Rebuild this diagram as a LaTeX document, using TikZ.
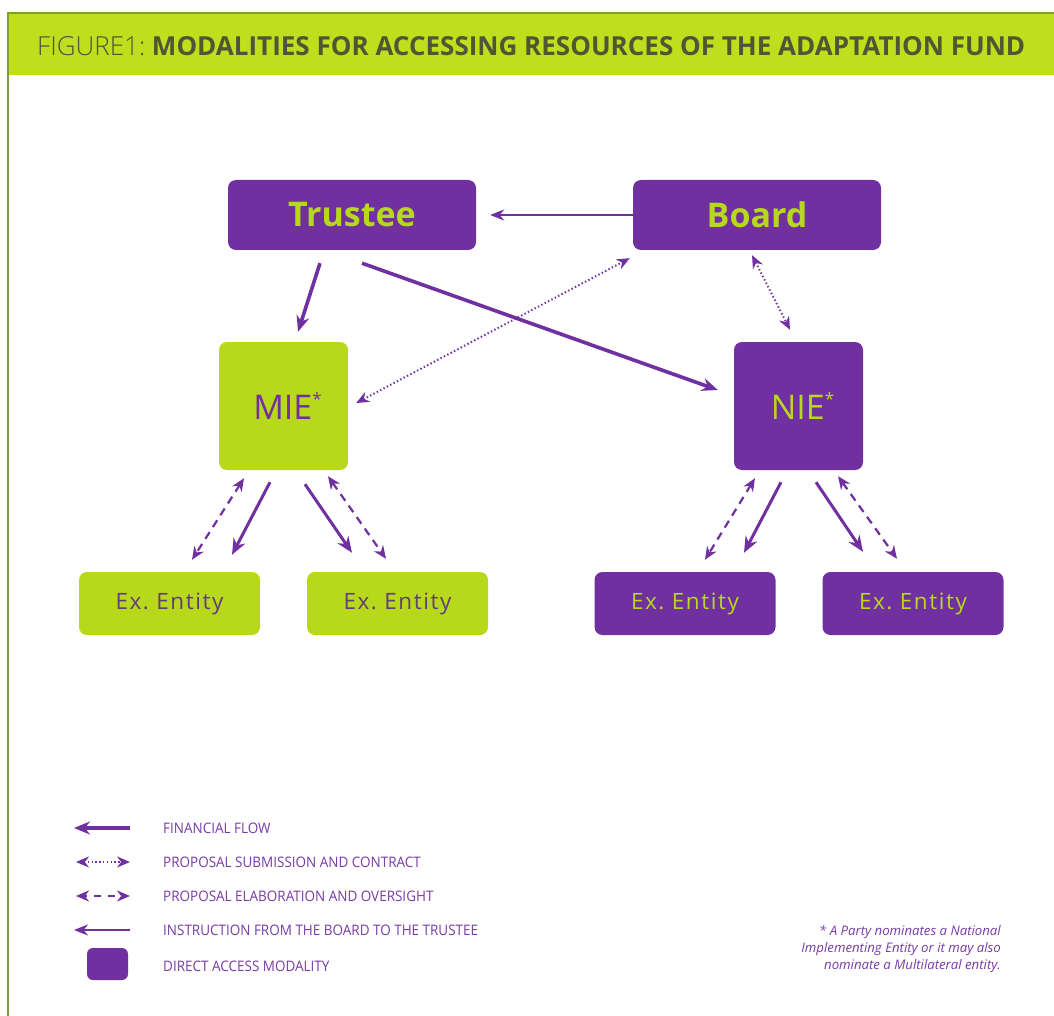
\documentclass[tikz,border=0pt]{standalone}
\usepackage{fontspec}
\setmainfont{Open Sans}
\usetikzlibrary{arrows.meta,calc}
\definecolor{pur}{RGB}{113,48,160}
\definecolor{lime}{RGB}{184,216,28}
\definecolor{band}{RGB}{190,222,30}
\definecolor{frame}{RGB}{128,156,56}
\definecolor{olive}{RGB}{78,86,52}
\definecolor{dpur}{RGB}{96,62,118}
\definecolor{lpur}{RGB}{120,60,165}
\tikzset{
  box/.style={rounded corners=8pt, inner sep=0pt, draw=none},
  pbox/.style={box, fill=pur, text=lime},
  gbox/.style={box, fill=lime, text=pur},
  topbox/.style={minimum width=248pt, minimum height=70pt, font=\fontsize{34}{34}\selectfont\bfseries},
  midbox/.style={minimum width=129pt, minimum height=128pt, font=\fontsize{34}{34}\selectfont},
  exbox/.style={minimum width=181pt, minimum height=63pt, font=\fontsize{22.5}{22.5}\selectfont\addfontfeatures{LetterSpace=7}},
  fin/.style={draw=pur, line width=3.6pt, -{Stealth[length=16pt,width=13pt]}},
  instr/.style={draw=pur, line width=2pt, -{Stealth[length=14pt,width=11pt]}},
  sub/.style={draw=pur, line width=2pt, dash pattern=on 1.4pt off 2.4pt, {Stealth[length=13pt,width=11pt]}-{Stealth[length=13pt,width=11pt]}},
  elab/.style={draw=pur, line width=2.2pt, dash pattern=on 8pt off 6pt, {Stealth[length=13pt,width=11pt]}-{Stealth[length=13pt,width=11pt]}},
  legtext/.style={anchor=west, inner sep=0pt, text=lpur, font=\fontsize{14.5}{15}\selectfont},
  star/.style={},
}
\newcommand{\mystar}{\raisebox{0.42em}{\fontsize{17}{17}\selectfont *}}
\begin{document}
\begin{tikzpicture}[x=1pt,y=-1pt]
\useasboundingbox (0,0) rectangle (1054,1016);
\fill[white] (0,0) rectangle (1054,1016);
% header band and frame
\fill[band] (8,13) rectangle (1054,75);
\draw[frame, line width=1.6pt] (8,1016) -- (8,13) -- (1054,13);
\node[anchor=west, inner sep=0pt, text=olive] (title) at (37,46)
  {\resizebox{988pt}{19pt}{\fontsize{28}{28}\selectfont {\fontspec{Open Sans Light}FIGURE1:}~\textbf{MODALITIES FOR ACCESSING RESOURCES OF THE ADAPTATION FUND}}};

% nodes
\node[pbox, topbox] (T) at (352,215) {Trustee};
\node[pbox, topbox] (B) at (757,215) {Board};
\node[gbox, midbox] (M) at (283.5,406) {\hspace*{8pt}MIE\mystar};
\node[pbox, midbox] (N) at (798.5,406) {\hspace*{8pt}NIE\mystar};
\node[gbox, exbox, text=dpur] (E1) at (169.5,603.5) {Ex.\ Entity};
\node[gbox, exbox, text=dpur] (E2) at (397.5,603.5) {Ex.\ Entity};
\node[pbox, exbox] (E3) at (685,603.5) {Ex.\ Entity};
\node[pbox, exbox] (E4) at (913,603.5) {Ex.\ Entity};

% connectors top
\draw[instr] (B.west) -- ($(T.east)+(14,0)$);
\draw[fin] ($(T.south)+(-32,13)$) -- ($(M.north)+(14.5,-10)$);
\draw[fin] ($(T.south)+(10,13)$) -- ($(N.west)+(-16,-16)$);
\draw[sub] ($(M.east)+(8,-3)$) -- ($(B.south west)+(-3,8)$);
\draw[sub] ($(B.south)+(-5,5)$) -- ($(N.north)+(-8.5,-12)$);

% MIE lower
\draw[elab] ($(M.south)+(-39.5,8)$) -- ($(E1.north)+(22.5,-12)$);
\draw[fin, line width=3pt] ($(M.south)+(-13.5,12)$) -- ($(E1.north)+(62.5,-17)$);
\draw[fin, line width=3pt] ($(M.south)+(21.5,14)$) -- ($(E2.north)+(-45.5,-19)$);
\draw[elab] ($(M.south)+(44.5,6)$) -- ($(E2.north)+(-11.5,-13)$);
% NIE lower
\draw[elab] ($(N.south)+(-43.5,8)$) -- ($(E3.north)+(20,-12)$);
\draw[fin, line width=3pt] ($(N.south)+(-17.5,12)$) -- ($(E3.north)+(59,-19)$);
\draw[fin, line width=3pt] ($(N.south)+(17.5,12)$) -- ($(E4.north)+(-50,-20)$);
\draw[elab] ($(N.south)+(39.5,6)$) -- ($(E4.north)+(-16,-13)$);

% legend
\coordinate (l1a) at (130,828); \coordinate (l1b) at (74,828);
\coordinate (l2a) at (76,862); \coordinate (l2b) at (130,862);
\coordinate (l3a) at (76,896); \coordinate (l3b) at (130,896);
\coordinate (l4a) at (130,930); \coordinate (l4b) at (74,930);
\draw[fin, line width=3.2pt] (l1a) -- (l1b);
\draw[sub] (l2a) -- (l2b);
\draw[elab, dash pattern=on 7pt off 7pt, dash phase=-10pt] (l3a) -- (l3b);
\draw[instr] (l4a) -- (l4b);
\node[box, fill=pur, minimum width=41pt, minimum height=32pt, rounded corners=6pt] (lsq) at (107.5,964) {};

\node[legtext] (t1) at (163,828) {\scalebox{0.93}[1]{FINANCIAL FLOW}};
\node[legtext] (t2) at (163,862) {\scalebox{0.93}[1]{PROPOSAL SUBMISSION AND CONTRACT}};
\node[legtext] (t3) at (163,896) {\scalebox{0.93}[1]{PROPOSAL ELABORATION AND OVERSIGHT}};
\node[legtext] (t4) at (163,930) {\scalebox{0.93}[1]{INSTRUCTION FROM THE BOARD TO THE TRUSTEE}};
\node[legtext] (t5) at (163,966) {\scalebox{0.93}[1]{DIRECT ACCESS MODALITY}};

% footnote
\node[anchor=east, align=right, inner sep=0pt, text=lpur, font=\fontsize{13.2}{17}\selectfont\itshape] (fn) at (1001,949)
  {* A Party nominates a National\\ Implementing Entity or it may also\\ nominate a Multilateral entity.};
\end{tikzpicture}
\end{document}
